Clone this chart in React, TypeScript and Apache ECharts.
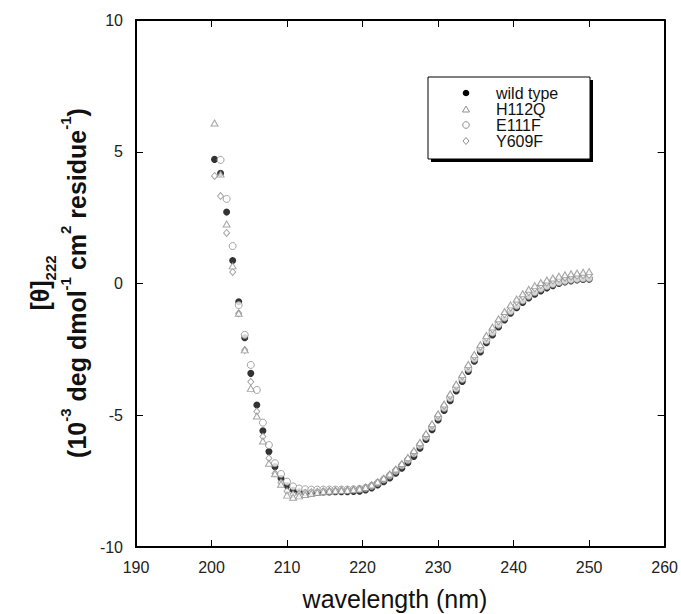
import React, { useEffect, useRef } from "react";
import * as echarts from "echarts";

const WAVELENGTH = [
  200.4, 201.2, 202.0, 202.8, 203.6, 204.4, 205.2, 206.0, 206.8, 207.6,
  208.4, 209.2, 210.0, 210.8, 211.6, 212.4, 213.2, 214.0, 214.8, 215.6,
  216.4, 217.2, 218.0, 218.8, 219.6, 220.4, 221.2, 222.0, 222.8, 223.6,
  224.4, 225.2, 226.0, 226.8, 227.6, 228.4, 229.2, 230.0, 230.8, 231.6,
  232.4, 233.2, 234.0, 234.8, 235.6, 236.4, 237.2, 238.0, 238.8, 239.6,
  240.4, 241.2, 242.0, 242.8, 243.6, 244.4, 245.2, 246.0, 246.8, 247.6,
  248.4, 249.2, 250.0,
];

const WILD_TYPE = [
  4.71, 4.18, 2.71, 0.87, -0.69, -2.06, -3.41, -4.61, -5.59, -6.38,
  -6.95, -7.39, -7.67, -7.84, -7.9, -7.92, -7.92, -7.92, -7.91, -7.91,
  -7.9, -7.9, -7.9, -7.89, -7.88, -7.84, -7.76, -7.65, -7.52, -7.38,
  -7.2, -7.01, -6.8, -6.56, -6.25, -5.92, -5.55, -5.18, -4.82, -4.45,
  -4.08, -3.72, -3.34, -2.95, -2.6, -2.25, -1.95, -1.65, -1.38, -1.13,
  -0.92, -0.72, -0.55, -0.41, -0.28, -0.17, -0.08, 0.0, 0.06, 0.1,
  0.13, 0.15, 0.16,
];

const H112Q = [
  6.09, 4.15, 2.26, 0.67, -1.13, -2.52, -3.98, -5.03, -5.98, -6.82,
  -7.22, -7.62, -8.03, -8.11, -8.06, -8.01, -7.97, -7.93, -7.9, -7.88,
  -7.87, -7.86, -7.85, -7.83, -7.8, -7.74, -7.65, -7.53, -7.39, -7.23,
  -7.04, -6.83, -6.6, -6.34, -6.03, -5.69, -5.32, -4.94, -4.57, -4.19,
  -3.82, -3.45, -3.07, -2.69, -2.32, -1.97, -1.65, -1.34, -1.06, -0.81,
  -0.59, -0.39, -0.22, -0.08, 0.04, 0.13, 0.21, 0.28, 0.33, 0.37,
  0.4, 0.43, 0.45,
];

const E111F = [
  null, 4.69, 3.21, 1.42, -0.82, -1.95, -3.09, -4.04, -5.28, -6.13,
  -6.82, -7.23, -7.52, -7.7, -7.78, -7.81, -7.82, -7.82, -7.82, -7.82,
  -7.82, -7.82, -7.82, -7.81, -7.8, -7.76, -7.68, -7.57, -7.44, -7.29,
  -7.11, -6.91, -6.7, -6.45, -6.15, -5.82, -5.45, -5.08, -4.72, -4.35,
  -3.98, -3.62, -3.24, -2.86, -2.5, -2.16, -1.86, -1.56, -1.3, -1.05,
  -0.84, -0.64, -0.47, -0.33, -0.2, -0.1, -0.02, 0.05, 0.1, 0.14,
  0.17, 0.19, 0.2,
];

const Y609F = [
  4.08, 3.32, 1.92, 0.44, -1.13, -2.52, -3.73, -4.86, -5.81, -6.63,
  -7.2, -7.55, -7.88, -8.0, -7.98, -7.95, -7.92, -7.9, -7.88, -7.87,
  -7.86, -7.85, -7.84, -7.82, -7.79, -7.74, -7.66, -7.55, -7.42, -7.27,
  -7.08, -6.88, -6.66, -6.4, -6.09, -5.75, -5.38, -5.01, -4.64, -4.26,
  -3.89, -3.52, -3.14, -2.77, -2.4, -2.05, -1.74, -1.43, -1.16, -0.91,
  -0.69, -0.49, -0.32, -0.18, -0.06, 0.04, 0.12, 0.18, 0.23, 0.27,
  0.3, 0.32, 0.33,
];

const SERIES_NAMES = ["wild type", "H112Q", "E111F", "Y609F"];
const X_TICKS = { min: 190, max: 260, interval: 10 };
const Y_TICKS = { min: -10, max: 10, interval: 5 };

const FONT = "'Liberation Sans', Arial, Helvetica, sans-serif";
const GREY = "#8f8f8f";

function pairs(values: (number | null)[]) {
  const out: [number, number][] = [];
  WAVELENGTH.forEach((w, i) => {
    const v = values[i];
    if (v !== null && v !== undefined) out.push([w, v]);
  });
  return out;
}

export default function App() {
  const ref = useRef<HTMLDivElement>(null);

  useEffect(() => {
    if (!ref.current) return;
    const chart = echarts.init(ref.current, undefined, { renderer: "svg" });

    const axisCommon = {
      type: "value" as const,
      splitLine: { show: false },
      axisLine: { show: true, onZero: false, lineStyle: { color: "#000", width: 2 } },
      axisTick: { show: true, inside: true, length: 7, lineStyle: { color: "#000", width: 1 } },
    };

    const openMarker = { color: "#fff", borderColor: GREY, borderWidth: 1 };

    chart.setOption({
      animation: false,
      backgroundColor: "#fff",
      grid: {
        left: 136,
        top: 20,
        width: 529,
        height: 527,
      },
      xAxis: [
        {
          ...axisCommon,
          ...X_TICKS,
          position: "bottom",
          axisLabel: { fontSize: 16, color: "#222", margin: 12, fontFamily: FONT },
        },
        {
          ...axisCommon,
          ...X_TICKS,
          position: "top",
          axisLabel: { show: false },
        },
      ],
      yAxis: [
        {
          ...axisCommon,
          ...Y_TICKS,
          position: "left",
          axisLabel: { fontSize: 16, color: "#222", margin: 13, fontFamily: FONT },
        },
        {
          ...axisCommon,
          ...Y_TICKS,
          position: "right",
          axisLabel: { show: false },
        },
      ],
      series: [
        {
          name: SERIES_NAMES[0],
          type: "scatter",
          symbol: "circle",
          symbolSize: 7,
          itemStyle: { color: "#000" },
          data: pairs(WILD_TYPE),
          z: 2,
        },
        {
          name: SERIES_NAMES[2],
          type: "scatter",
          symbol: "circle",
          symbolSize: 7,
          itemStyle: openMarker,
          data: pairs(E111F),
          z: 3,
        },
        {
          name: SERIES_NAMES[3],
          type: "scatter",
          symbol: "diamond",
          symbolSize: [6, 7],
          itemStyle: openMarker,
          data: pairs(Y609F),
          z: 4,
        },
        {
          name: SERIES_NAMES[1],
          type: "scatter",
          symbol: "triangle",
          symbolSize: [7, 6],
          itemStyle: openMarker,
          data: pairs(H112Q),
          z: 5,
        },
      ],
      graphic: [
        {
          type: "text",
          x: 58,
          y: 283,
          rotation: Math.PI / 2,
          style: {
            text:
              "{b|[θ]}{sub|222}\n{b|(10}{sup|-3}{b| deg dmol}{sup|-1}{b| cm}{sup|2}{b| residue}{sup|-1}{b|)}",
            align: "center",
            verticalAlign: "middle",
            fill: "#111",
            rich: {
              b: { fontSize: 25, fontWeight: "bold", fontFamily: FONT, lineHeight: 37, fill: "#111" },
              sup: { fontSize: 15, fontWeight: "bold", fontFamily: FONT, lineHeight: 27, verticalAlign: "top", fill: "#111" },
              sub: { fontSize: 15, fontWeight: "bold", fontFamily: FONT, lineHeight: 22, verticalAlign: "bottom", fill: "#111" },
            },
          },
        },
        {
          type: "text",
          x: 395,
          y: 599,
          style: {
            text: "wavelength (nm)",
            fontSize: 25,
            fontFamily: FONT,
            fill: "#111",
            align: "center",
            verticalAlign: "middle",
          },
        },
        {
          type: "group",
          z: 100,
          children: [
            { type: "rect", shape: { x: 431, y: 80, width: 162, height: 82 }, style: { fill: "#000" } },
            {
              type: "rect",
              shape: { x: 428, y: 77, width: 162, height: 82 },
              style: { fill: "#fff", stroke: "#000", lineWidth: 1 },
            },
            { type: "circle", shape: { cx: 466, cy: 93, r: 3.3 }, style: { fill: "#000" } },
            {
              type: "polygon",
              shape: { points: [[466, 106], [469.5, 112], [462.5, 112]] },
              style: { fill: "#fff", stroke: GREY, lineWidth: 1 },
            },
            { type: "circle", shape: { cx: 466, cy: 125, r: 3.3 }, style: { fill: "#fff", stroke: GREY, lineWidth: 1 } },
            {
              type: "polygon",
              shape: { points: [[466, 137.5], [469, 141], [466, 144.5], [463, 141]] },
              style: { fill: "#fff", stroke: GREY, lineWidth: 1 },
            },
            ...SERIES_NAMES.map((name, i) => ({
              type: "text",
              x: 496,
              y: 93 + i * 16,
              style: {
                text: name,
                fontSize: 16,
                lineHeight: 15,
                fontFamily: FONT,
                fill: "#111",
                align: "left",
                verticalAlign: "middle",
              },
            })),
          ],
        },
      ],
    });

    return () => chart.dispose();
  }, []);

  return (
    <div
      ref={ref}
      style={{ position: "absolute", left: 0, top: 0, width: 681, height: 614, background: "#fff" }}
    />
  );
}
